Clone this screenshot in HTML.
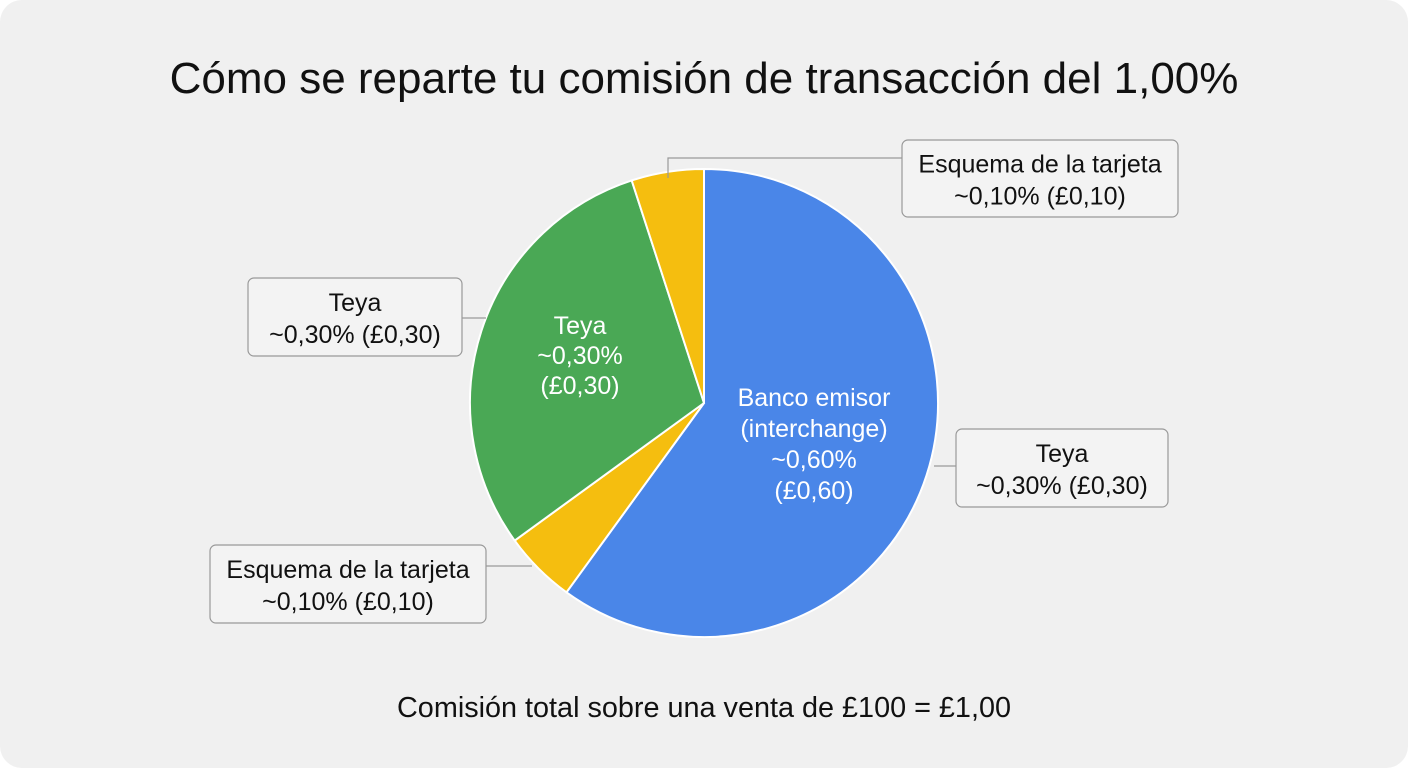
<!DOCTYPE html>
<html><head><meta charset="utf-8">
<style>
html,body{margin:0;padding:0;background:#fff;}
body{width:1408px;height:768px;overflow:hidden;font-family:"Liberation Sans",sans-serif;}
.card{position:absolute;left:0;top:0;width:1408px;height:768px;background:#f0f0f0;border-radius:22px;}
</style></head><body>
<div class="card">
<svg width="1408" height="768" id="chart">
<text x="704" y="93" text-anchor="middle" font-size="44" fill="#111">Cómo se reparte tu comisión de transacción del 1,00%</text>
<g id="slices"></g>
<g id="labels"></g>
<text x="704" y="717" text-anchor="middle" font-size="28.8" fill="#111">Comisión total sobre una venta de £100 = £1,00</text>
</svg>
</div>
<script>
const categories=["Banco emisor (interchange)","Esquema de la tarjeta","Teya","Esquema de la tarjeta"];
const values=[0.60,0.05,0.30,0.05];
const colors=["#4a86e8","#f5be0f","#4aa855","#f5be0f"];
const cx=704,cy=403,r=234;
const NS="http://www.w3.org/2000/svg";
const g=document.getElementById("slices");
const total=values.reduce((a,b)=>a+b,0);
function pt(a,rr){return [cx+rr*Math.sin(a),cy-rr*Math.cos(a)];}
let acc=0;
values.forEach((v,i)=>{
  const a0=acc/total*2*Math.PI;acc+=v;const a1=acc/total*2*Math.PI;
  const p0=pt(a0,r),p1=pt(a1,r);
  const large=(a1-a0)>Math.PI?1:0;
  const p=document.createElementNS(NS,"path");
  p.setAttribute("d",`M${cx},${cy}L${p0[0]},${p0[1]}A${r},${r} 0 ${large} 1 ${p1[0]},${p1[1]}Z`);
  p.setAttribute("fill",colors[i]);p.setAttribute("stroke","#fff");p.setAttribute("stroke-width","2");
  
  
  g.appendChild(p);
});
const L=document.getElementById("labels");
function txt(x,y,s,fill,size,name){const t=document.createElementNS(NS,"text");t.setAttribute("x",x);t.setAttribute("y",y);t.setAttribute("text-anchor","middle");t.setAttribute("font-size",size);t.setAttribute("fill",fill);t.textContent=s;


L.appendChild(t);}
function line(pts,name){const p=document.createElementNS(NS,"polyline");p.setAttribute("points",pts);p.setAttribute("fill","none");p.setAttribute("stroke","#999");p.setAttribute("stroke-width","1.2");


L.appendChild(p);}
function box(x,y,w,h,lines,name){const b=document.createElementNS(NS,"rect");b.setAttribute("x",x);b.setAttribute("y",y);b.setAttribute("width",w);b.setAttribute("height",h);b.setAttribute("rx",6);b.setAttribute("fill","#f3f3f3");b.setAttribute("stroke","#999");b.setAttribute("stroke-width","1.2");


L.appendChild(b);
lines.forEach((s,i)=>txt(x+w/2,y+h/2-16+i*32+10,s,"#111",25,name+"-text"));}
line("668,178 668,158 902,158","leader-top");
line("462,318 486,318","leader-left");
line("934,466 956,466","leader-right");
line("486,566 532,566","leader-bottom");
box(902,140,276,77,["Esquema de la tarjeta","~0,10% (£0,10)"],"callout-esquema-top");
box(248,278,214,78,["Teya","~0,30% (£0,30)"],"callout-teya-left");
box(956,429,212,78,["Teya","~0,30% (£0,30)"],"callout-teya-right");
box(210,545,276,78,["Esquema de la tarjeta","~0,10% (£0,10)"],"callout-esquema-bottom");
["Teya","~0,30%","(£0,30)"].forEach((s,i)=>txt(580,334+i*30,s,"#fff",25,"label-teya-inside"));
["Banco emisor","(interchange)","~0,60%","(£0,60)"].forEach((s,i)=>txt(814,406+i*31,s,"#fff",25,"label-banco-inside"));
</script>
</body></html>
